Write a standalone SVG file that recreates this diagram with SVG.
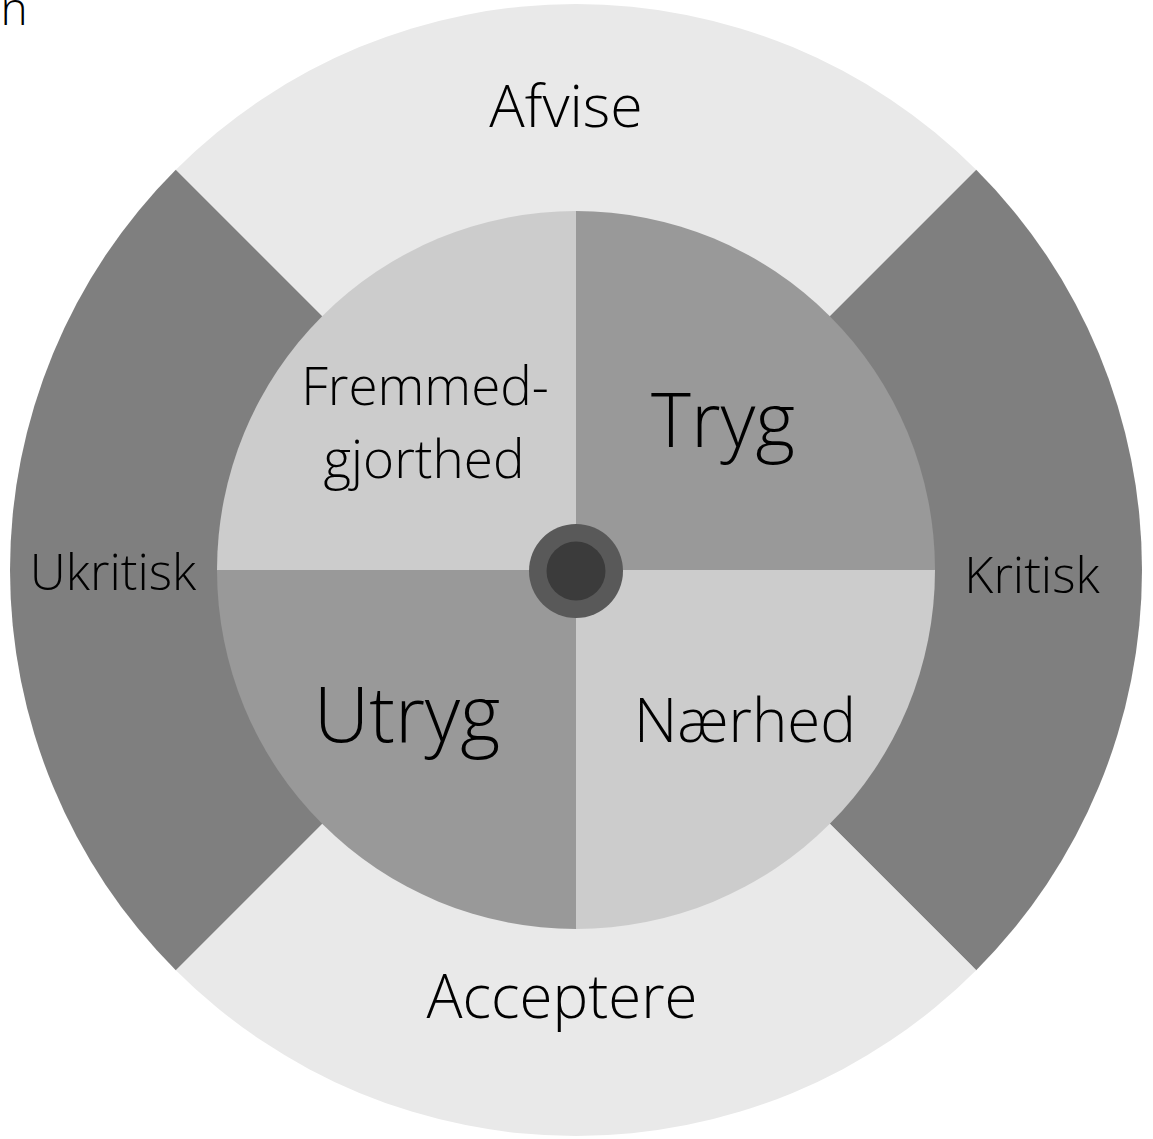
<svg xmlns="http://www.w3.org/2000/svg" width="1153" height="1139" viewBox="0 0 1153 1139">
<style>
.t{font-family:"Open Sans","Liberation Sans",sans-serif;font-weight:300;fill:#000;text-anchor:middle}
.ol{fill:#e9e9e9}
.od{fill:#7f7f7f}
.il{fill:#cccccc}
.id{fill:#999999}
</style>
<rect width="1153" height="1139" fill="#ffffff"/>
<g id="outer-top"><path class="ol" d="M576,570 L175.78,169.78 A566,566 0 0 1 976.22,169.78 Z"/><text class="t" x="566" y="127" font-size="59">Afvise</text></g>
<g id="outer-right"><path class="od" d="M576,570 L976.22,169.78 A566,566 0 0 1 976.22,970.22 Z"/><text class="t" x="1032" y="593" font-size="50">Kritisk</text></g>
<g id="outer-bottom"><path class="ol" d="M576,570 L976.22,970.22 A566,566 0 0 1 175.78,970.22 Z"/><text class="t" x="562" y="1018" font-size="60">Acceptere</text></g>
<g id="outer-left"><path class="od" d="M576,570 L175.78,970.22 A566,566 0 0 1 175.78,169.78 Z"/><text class="t" x="113" y="590" font-size="50">Ukritisk</text></g>
<g id="q-fremmed"><path class="il" d="M576,570 L217,570 A359,359 0 0 1 576,211 Z"/><text class="t" x="425" y="405" font-size="53">Fremmed-</text><text class="t" x="424" y="478" font-size="53">gjorthed</text></g>
<g id="q-tryg"><path class="id" d="M576,570 L576,211 A359,359 0 0 1 935,570 Z"/><text class="t" x="723" y="447" font-size="76">Tryg</text></g>
<g id="q-naerhed"><path class="il" d="M576,570 L935,570 A359,359 0 0 1 576,929 Z"/><text class="t" x="745" y="742" font-size="60">Nærhed</text></g>
<g id="q-utryg"><path class="id" d="M576,570 L576,929 A359,359 0 0 1 217,570 Z"/><text class="t" x="407" y="742" font-size="77">Utryg</text></g>
<g id="hub"><circle cx="576" cy="571" r="47" fill="#595959"/><circle cx="576" cy="571" r="29.5" fill="#3b3b3b"/></g>
<g id="connectors"/>
<text class="t" x="14" y="25" font-size="46">n</text>
</svg>
